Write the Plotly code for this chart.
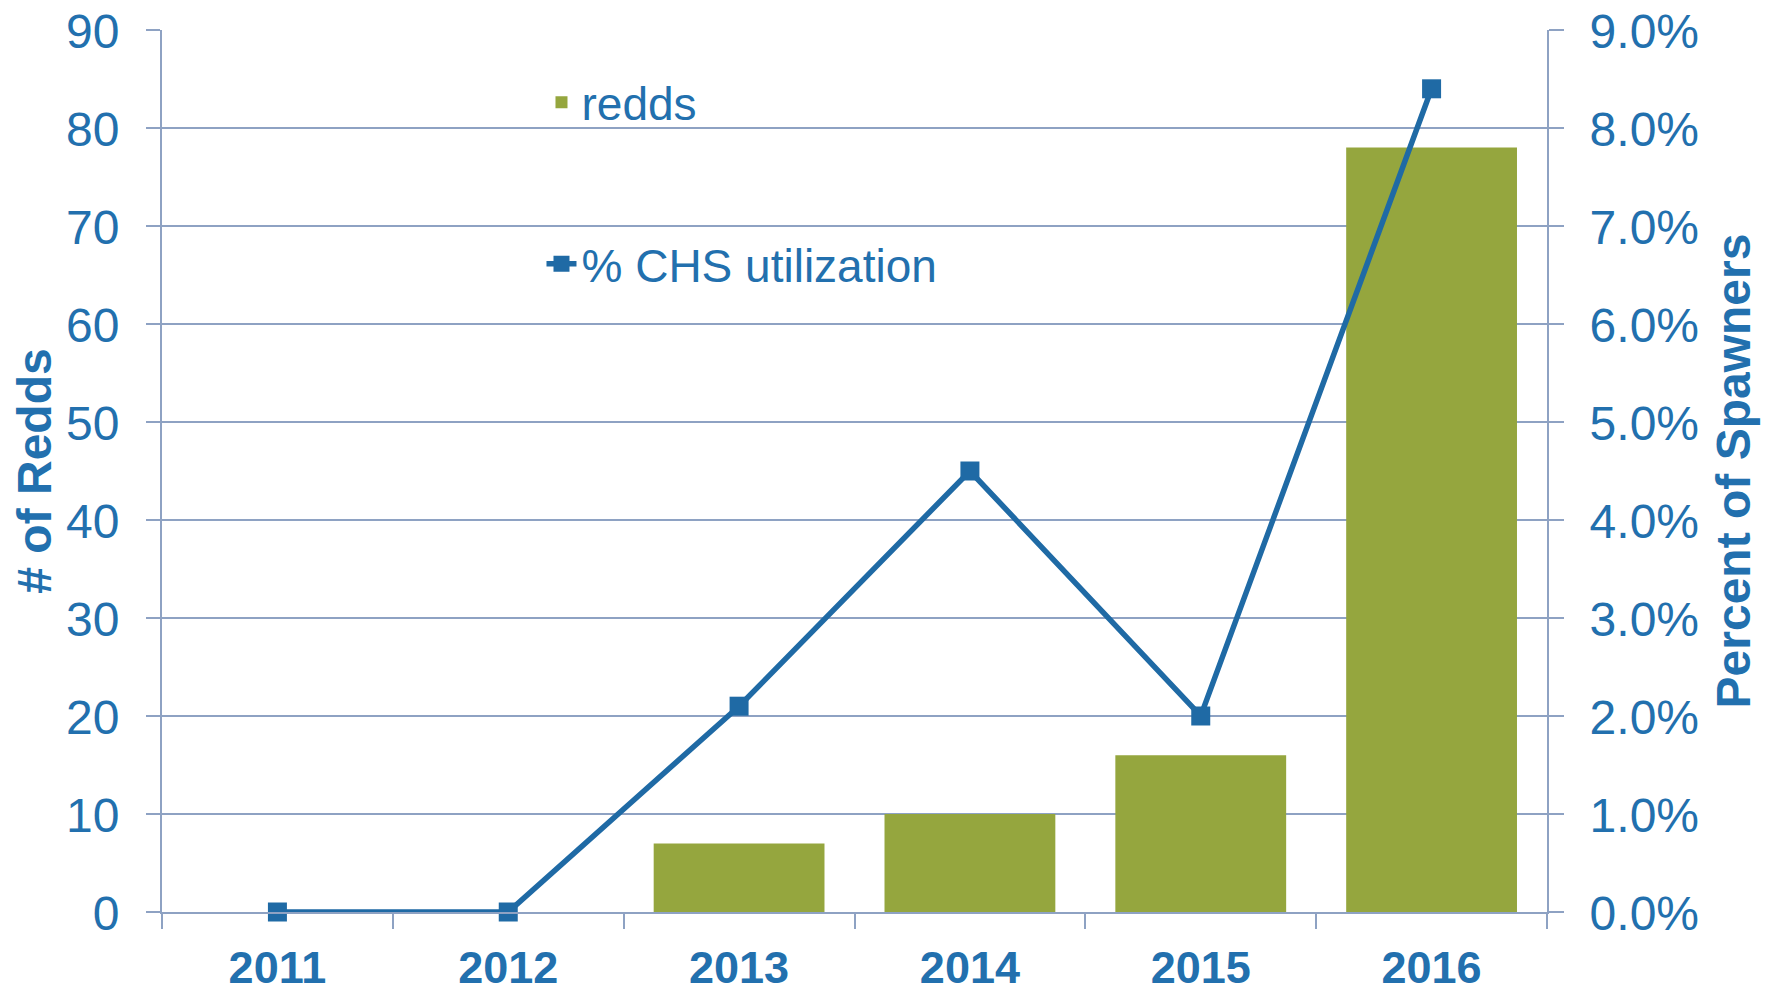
import plotly.graph_objects as go

years = ["2011", "2012", "2013", "2014", "2015", "2016"]
redds = [0, 0, 7, 10, 16, 78]
chs_util = [0.0, 0.0, 0.021, 0.045, 0.020, 0.084]

BLUE = "#1F6AA5"
TXT = "#2270AE"
OLIVE = "#95A63E"
GRID = "#8EA2C3"
FONT = "Liberation Sans, Arial, sans-serif"

fig = go.Figure()
fig.add_trace(go.Bar(
    x=years, y=redds, name="redds", marker=dict(color=OLIVE, line=dict(width=0)),
    legend="legend", yaxis="y",
))
fig.add_trace(go.Scatter(
    x=years, y=chs_util, name="% CHS utilization", mode="lines+markers",
    line=dict(color=BLUE, width=5.5),
    marker=dict(symbol="square", size=19, color=BLUE),
    cliponaxis=False,
    legend="legend2", yaxis="y2",
))

# the page body adds an 8px offset, so the figure is 8px smaller and margins shifted
fig.update_layout(
    width=1767, height=984,
    margin=dict(l=154, r=228, t=22, b=80, autoexpand=False),
    paper_bgcolor="white", plot_bgcolor="white",
    font=dict(family=FONT, color=TXT, size=46),
    bargap=0.26,
    showlegend=True,
    legend=dict(x=0.274, y=0.918, xanchor="left", yanchor="middle",
                font=dict(size=46, color=TXT, family=FONT), bgcolor="rgba(0,0,0,0)"),
    legend2=dict(x=0.274, y=0.735, xanchor="left", yanchor="middle",
                 font=dict(size=46, color=TXT, family=FONT), bgcolor="rgba(0,0,0,0)"),
    xaxis=dict(
        type="category", showline=True, linecolor=GRID, linewidth=2,
        ticks="outside", tickson="boundaries", ticklen=15, tickcolor=GRID, tickwidth=2,
        tickfont=dict(size=45, color=TXT, family=FONT, weight="bold"),
        ticklabelstandoff=15, automargin=False, ticklabeloverflow="allow",
        showgrid=False,
    ),
    yaxis=dict(
        range=[0, 90], dtick=10, showgrid=True, gridcolor=GRID, gridwidth=2,
        showline=True, linecolor=GRID, linewidth=2, zeroline=False,
        ticks="outside", ticklen=14, tickcolor=GRID, tickwidth=2,
        tickfont=dict(size=48, color=TXT, family=FONT),
        ticklabelstandoff=17, ticklabelshift=1, automargin=False, ticklabeloverflow="allow",
        title=dict(text="# of Redds", font=dict(size=48, color=TXT, family=FONT, weight="bold"), standoff=7),
    ),
    yaxis2=dict(
        range=[0, 0.09], dtick=0.01, tickformat=".1%", overlaying="y", side="right",
        showgrid=False, showline=True, linecolor=GRID, linewidth=2, zeroline=False,
        ticks="outside", ticklen=15, tickcolor=GRID, tickwidth=2,
        tickfont=dict(size=48, color=TXT, family=FONT),
        ticklabelstandoff=16, ticklabelshift=1, automargin=False, ticklabeloverflow="allow",
        title=dict(text="Percent of Spawners", font=dict(size=48, color=TXT, family=FONT, weight="bold"), standoff=18),
    ),
)

fig.write_html("out.html")
